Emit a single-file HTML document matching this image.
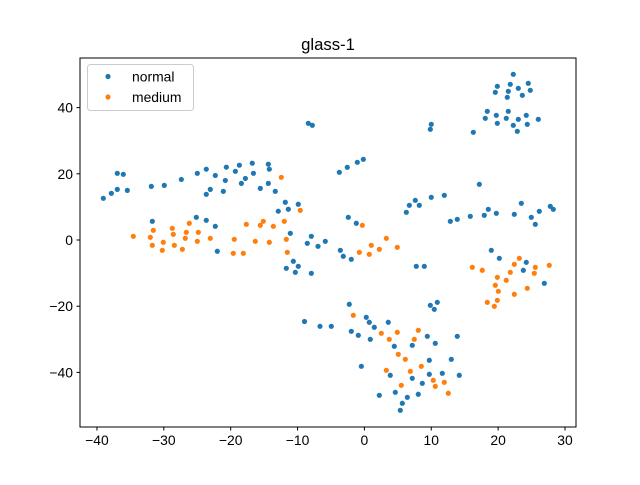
<!DOCTYPE html>
<html><head><meta charset="utf-8"><style>
body{margin:0;background:#fff;}
svg text{font-family:"Liberation Sans","DejaVu Sans",sans-serif;fill:#000;}
</style></head><body>
<svg id="chart" width="640" height="480" xmlns="http://www.w3.org/2000/svg">
<rect x="0" y="0" width="640" height="480" fill="#fff"/>
<text x="328" y="50" text-anchor="middle" font-size="16.7">glass-1</text>
<g id="marks"></g>
<rect x="80" y="58" width="496" height="369" fill="none" stroke="#000" stroke-width="1"/>
<g id="axes"></g>
<g>
<rect x="87.5" y="64.5" width="106" height="46" rx="3" fill="#fff" fill-opacity="0.8" stroke="#ccc"/>
<g><circle cx="108" cy="76.5" r="2.6" fill="#1f77b4"/><text x="132" y="81.5" font-size="13.9">normal</text></g>
<g><circle cx="108" cy="97" r="2.6" fill="#ff7f0e"/><text x="132" y="102" font-size="13.9">medium</text></g>
</g>
</svg>
<script>
const normalX=[-39.05,-37.85,-36.96,-36.96,-36.06,-35.46,-31.87,-29.93,-27.38,-24.99,-23.65,-22.3,-20.65,-20.8,-19.3,-18.7,-16.77,-16.6,-17.8,-18.4,-14.37,-14.22,-14.37,-15.57,-13.33,-23.65,-23.05,-21.1,-11.83,-9.89,-11.38,-12.88,-31.72,-25.14,-23.65,-22.3,-22.0,-11.08,-7.94,-8.54,-6.94,-10.63,-9.89,-11.68,-10.33,-7.94,-8.39,-7.79,-3.75,-2.56,-1.06,-0.16,10.0,9.86,-2.41,-1.21,-5.85,-3.6,-3.16,-1.96,6.27,6.72,7.61,8.21,10.0,11.95,12.85,13.89,7.76,8.96,-2.26,-6.64,-4.95,0.28,0.73,1.48,-1.96,-0.91,0.88,3.57,4.47,7.16,9.41,10.6,13.89,9.86,10.9,10.45,-0.46,3.87,7.16,8.66,9.71,9.71,11.65,13.0,14.19,2.23,4.62,6.42,8.06,5.67,5.37,-8.96,22.27,19.88,21.82,24.51,19.58,21.52,23.02,24.81,21.37,23.62,18.38,21.52,18.08,19.73,21.22,24.21,23.02,26.01,19.88,22.27,24.36,22.87,16.29,17.19,18.53,15.84,17.93,19.73,23.47,22.42,24.96,26.16,25.56,27.8,28.25,18.98,20.18,24.21,23.77,26.91];
const normalY=[12.6,14.1,15.3,20.15,19.85,15.0,16.2,16.5,18.3,20.15,21.4,19.5,22.0,18.0,20.75,22.6,23.2,20.15,18.6,17.1,22.9,21.4,17.1,15.6,14.7,13.8,15.3,14.7,11.4,10.8,9.3,8.7,5.65,6.86,5.95,4.14,-3.41,2.02,1.12,-1.0,-1.9,-6.43,-7.95,-8.55,-9.76,-10.06,35.26,34.65,20.45,21.96,23.47,24.38,34.95,33.44,6.86,5.05,-0.39,-3.11,-4.92,-5.83,8.37,10.48,11.99,10.48,12.9,13.5,5.65,6.25,-7.95,-7.95,-19.42,-26.07,-26.07,-23.35,-24.86,-26.37,-27.58,-28.79,-30.0,-24.86,-32.11,-31.81,-29.09,-31.21,-29.09,-19.73,-18.82,-20.94,-38.16,-40.87,-41.78,-43.29,-36.34,-40.57,-40.27,-36.04,-40.87,-46.92,-46.01,-47.52,-46.61,-49.33,-51.45,-24.62,50.06,46.43,47.04,47.34,44.62,44.92,45.83,45.22,43.11,43.71,38.88,38.88,36.77,37.67,36.77,37.67,36.46,36.46,35.26,34.65,34.95,32.84,32.54,16.83,9.27,7.16,7.46,8.07,11.09,7.76,6.86,8.67,4.74,10.18,9.27,-3.11,-5.53,-6.74,-9.15,-13.08];
const mediumX=[-12.43,-9.59,-34.56,-31.57,-32.02,-31.72,-30.08,-30.23,-28.73,-28.58,-28.43,-27.23,-26.79,-26.64,-26.19,-24.84,-24.99,-23.05,-19.46,-19.61,-18.11,-17.66,-16.32,-15.57,-15.12,-14.22,-13.62,-11.98,-11.68,-11.53,-0.31,1.03,-0.76,0.73,2.23,3.28,4.92,-1.66,2.53,3.72,4.92,8.06,7.46,5.07,6.12,3.28,6.87,8.51,10.3,11.95,10.6,12.55,5.52,23.17,22.42,16.14,17.63,25.56,27.65,21.82,25.41,19.88,21.22,19.58,20.03,24.36,22.42,18.38,19.88,19.43];
const mediumY=[18.94,8.97,1.12,2.93,0.82,-1.6,-0.69,-3.11,3.53,1.72,-1.6,-2.81,0.51,2.33,5.05,2.33,-0.39,0.51,0.21,-4.02,-4.02,4.74,-0.39,4.44,5.65,-0.69,4.14,5.65,0.21,-3.72,4.44,-1.6,-3.72,-4.32,-2.81,0.51,-2.21,-22.75,-28.19,-30.0,-27.88,-27.28,-30.0,-34.53,-36.04,-39.37,-39.67,-38.16,-42.39,-42.99,-44.2,-46.31,-43.9,-5.53,-7.34,-8.25,-9.15,-8.25,-7.64,-9.76,-10.06,-11.27,-12.17,-13.68,-15.5,-14.59,-16.4,-18.82,-18.22,-20.03];
const xTicks=[-40,-30,-20,-10,0,10,20,30];
const yTicks=[-40,-20,0,20,40];
const NS='http://www.w3.org/2000/svg';
function sx(v){return 364.4+v*6.686;}
function sy(v){return 240-v*3.31;}
const marks=document.getElementById('marks');
function plot(xs,ys,color,name){
  for(let i=0;i<xs.length;i++){
    const c=document.createElementNS(NS,'circle');
    c.setAttribute('cx',sx(xs[i]));c.setAttribute('cy',sy(ys[i]));
    c.setAttribute('r',2.6);c.setAttribute('fill',color);
    
    
    marks.appendChild(c);
  }
}
plot(normalX,normalY,'#1f77b4','normal');
plot(mediumX,mediumY,'#ff7f0e','medium');
const axes=document.getElementById('axes');
xTicks.forEach(t=>{
  const l=document.createElementNS(NS,'line');
  l.setAttribute('x1',sx(t));l.setAttribute('x2',sx(t));l.setAttribute('y1',427);l.setAttribute('y2',430.5);l.setAttribute('stroke','#000');
  
  
  axes.appendChild(l);
  const tx=document.createElementNS(NS,'text');
  tx.setAttribute('x',sx(t));tx.setAttribute('y',445);tx.setAttribute('text-anchor','middle');tx.setAttribute('font-size','13.9');
  tx.textContent=(t<0?'\u2212'+(-t):t);
  
  
  axes.appendChild(tx);
});
yTicks.forEach(t=>{
  const l=document.createElementNS(NS,'line');
  l.setAttribute('x1',76.5);l.setAttribute('x2',80);l.setAttribute('y1',sy(t));l.setAttribute('y2',sy(t));l.setAttribute('stroke','#000');
  
  
  axes.appendChild(l);
  const tx=document.createElementNS(NS,'text');
  tx.setAttribute('x',73);tx.setAttribute('y',sy(t)+5);tx.setAttribute('text-anchor','end');tx.setAttribute('font-size','13.9');
  tx.textContent=(t<0?'\u2212'+(-t):t);
  
  
  axes.appendChild(tx);
});
</script>
</body></html>
